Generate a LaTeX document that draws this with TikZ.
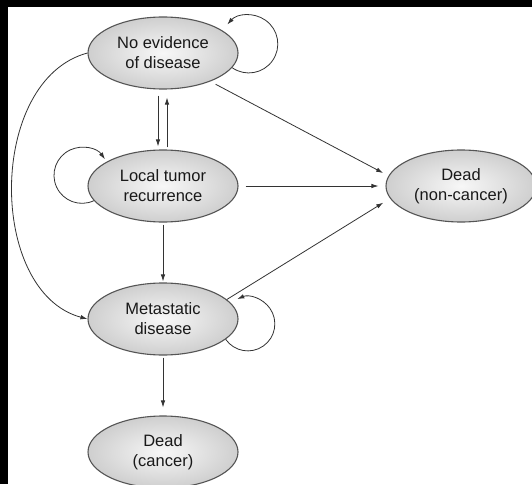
\documentclass[tikz,border=0pt]{standalone}
\usepackage{fontspec}
\setmainfont{Liberation Sans}
\usetikzlibrary{shapes.geometric,arrows.meta}
\definecolor{edgegray}{HTML}{333333}
\definecolor{rimgray}{HTML}{555555}

\begin{document}
\begin{tikzpicture}[
    node distance=133pt,
    every node/.style={font=\fontsize{16.5}{20}\selectfont, text=black!90},
    state/.style={draw=rimgray, line width=1.1pt, ellipse, minimum width=150pt, minimum height=72pt, inner sep=0pt, align=center, inner color=gray!6, outer color=gray!38},
    arrow/.style={-{Latex[length=7pt,width=4.5pt]}, draw=edgegray, line width=0.8pt}
]
% black edge of the scan
\fill[black] (0,0) rectangle (532pt,-484pt);
\fill[white] (8pt,-7pt) rectangle (532pt,-484pt);
\useasboundingbox (0,0) rectangle (532pt,-484pt);

\node[state] (ned) at (163pt,-53pt) {No evidence\\of disease};
\node[state, below of=ned] (ltr) {Local tumor\\recurrence};
\node[state, below of=ltr] (mtd) {Metastatic\\disease};
\node[state, below of=mtd] (dca) {Dead\\(cancer)};
\node[state, right of=ltr, node distance=298pt] (dnc) {Dead\\(non-cancer)};

\draw[arrow, shorten <=6pt, shorten >=3pt] ([xshift=-5pt]ned.south) -- ([xshift=-5pt]ltr.north);
\draw[arrow, shorten <=2pt, shorten >=8pt] ([xshift=4pt]ltr.north) -- ([xshift=4pt]ned.south);
\draw[arrow, shorten <=2pt, shorten >=1pt] (ltr) -- (mtd);
\draw[arrow, shorten <=2pt, shorten >=8pt] (mtd) -- (dca);

\draw[arrow, shorten <=6pt, shorten >=6pt] (ned.-31) -- (dnc.172);
\draw[arrow, shorten <=7pt, shorten >=7pt] (ltr.east) -- (dnc.west);
\draw[arrow, shorten >=8pt] (mtd.17) -- (dnc.190);
\draw[arrow] (ned.west) to[out=195, in=165] (mtd.west);

% self loops
\draw[arrow] (ned.-12) arc[start angle=235, end angle=498, radius=29pt];
\draw[arrow] (ltr.192) arc[start angle=295, end angle=35, radius=28pt];
\draw[arrow] (mtd.-18) arc[start angle=215, end angle=473, radius=27pt];
\end{tikzpicture}
\end{document}
